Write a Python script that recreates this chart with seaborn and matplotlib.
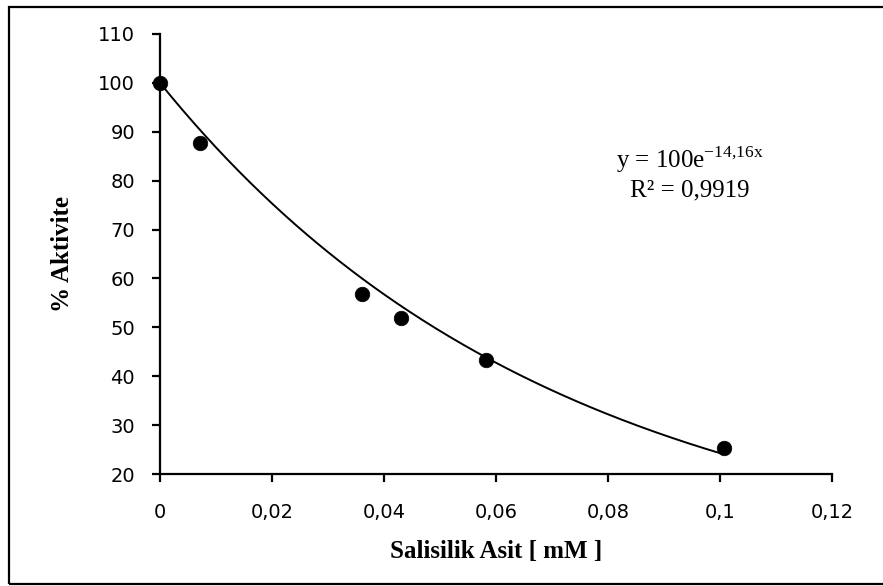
import numpy as np
import pandas as pd
import matplotlib
matplotlib.use("Agg")
import matplotlib.pyplot as plt
import seaborn as sns
from matplotlib.patches import Rectangle

# Measured activity vs. salicylic acid concentration
concentration = [0.0, 0.0071, 0.0361, 0.0430, 0.0582, 0.1007]
activity = [100.0, 87.8, 56.8, 51.9, 43.3, 25.3]

# Exponential trendline parameters
fit_a = 100
fit_k = -14.16
fit_r2 = "0,9919"

x_ticks = [0, 0.02, 0.04, 0.06, 0.08, 0.1, 0.12]
x_tick_labels = ["0", "0,02", "0,04", "0,06", "0,08", "0,1", "0,12"]
y_ticks = [20, 30, 40, 50, 60, 70, 80, 90, 100, 110]

sns.set_theme(style="white")
plt.rcParams["font.family"] = ["DejaVu Sans"]

fig = plt.figure(figsize=(8.83, 5.86), dpi=100)
ax = fig.add_axes([0.1812, 0.1911, 0.7610, 0.7509])

df = pd.DataFrame({"x": concentration, "y": activity})
xs = np.linspace(0, 0.1, 200)
trend = pd.DataFrame({"x": xs, "y": fit_a * np.exp(fit_k * xs)})

sns.lineplot(data=trend, x="x", y="y", ax=ax, color="black", linewidth=1.4, zorder=2)
sns.scatterplot(data=df, x="x", y="y", ax=ax, color="black", s=110, marker="o",
                edgecolor="black", linewidth=0.5, zorder=3, clip_on=False)

ax.set_xlim(0, 0.12)
ax.set_ylim(20, 110)
ax.set_xticks(x_ticks)
ax.set_xticklabels(x_tick_labels)
ax.set_yticks(y_ticks)

for side in ["top", "right"]:
    ax.spines[side].set_visible(False)
for side in ["left", "bottom"]:
    ax.spines[side].set_color("black")
    ax.spines[side].set_linewidth(1.6)

ax.tick_params(axis="both", direction="out", length=6, width=1.6, color="black",
               labelsize=14, labelcolor="black", left=True, bottom=True)
ax.tick_params(axis="y", pad=12)
ax.tick_params(axis="x", pad=15)

ax.set_xlabel("Salisilik Asit [ mM ]", fontsize=18, fontweight="bold",
              family=["Liberation Serif"], color="black")
ax.set_ylabel("% Aktivite", fontsize=18, fontweight="bold",
              family=["Liberation Serif"], color="black")
ax.xaxis.set_label_coords(0.5, -0.15)
ax.yaxis.set_label_coords(-0.145, 0.5)
ax.yaxis.label.set_va("center")
ax.grid(False)

eq_x = 0.0946
exponent = f"{fit_k:.2f}".replace(".", "{,}")
ax.text(eq_x, 84.2, rf"y = {fit_a}e$^{{\mathregular{{{exponent}x}}}}$", fontsize=18,
        family=["Liberation Serif"], ha="center", va="center", color="black")
ax.text(eq_x, 78.1, "R² = " + fit_r2, fontsize=18,
        family=["Liberation Serif"], ha="center", va="center", color="black")

# Outer frame around the chart area
fig.patches.append(Rectangle((9 / 883, 2 / 586), 1.2, 577 / 586,
                             transform=fig.transFigure, fill=False,
                             edgecolor="black", linewidth=1.6))

fig.savefig("out.png", dpi=100)
